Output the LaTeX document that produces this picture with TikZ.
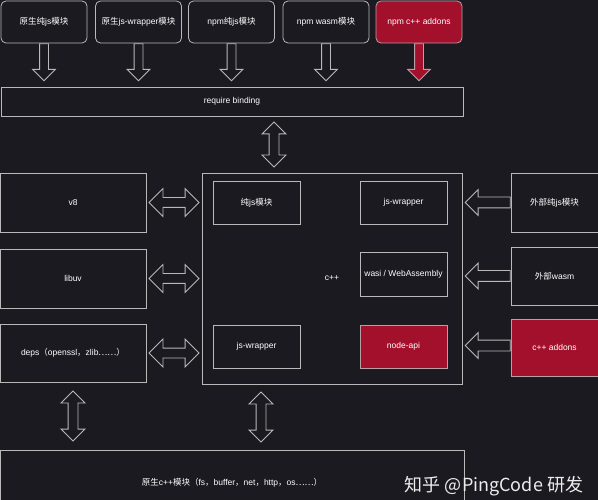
\documentclass[tikz,border=0pt]{standalone}
\usepackage{fontspec}
\setmainfont{Liberation Sans}
\newfontfamily\cjk{Noto Sans CJK SC}
\usetikzlibrary{shapes.arrows,calc}
\definecolor{bg}{RGB}{27,26,33}
\definecolor{edge}{RGB}{185,185,185}
\definecolor{addon}{RGB}{163,16,44}

\begin{document}
\begin{tikzpicture}[x=1pt,y=-1pt,
	box/.style={draw=edge,line width=0.8pt,fill=bg,text=white,font=\fontsize{8.5}{10}\selectfont,inner sep=1pt},
	topbox/.style={box,rounded corners=5pt,minimum width=86pt,minimum height=42pt},
	addonbox/.style={fill=addon,draw=edge!85!addon},
	downarr/.style={single arrow,draw=edge,fill=bg,line width=0.8pt,shape border rotate=270,
		inner sep=4pt,minimum height=37pt,single arrow head extend=7pt,anchor=tail},
	leftarr/.style={single arrow,draw=edge,fill=bg,line width=0.8pt,shape border rotate=180,
		inner sep=5pt,minimum height=45pt,single arrow head extend=7.5pt,anchor=tail},
	twoarr/.style={double arrow,draw=edge,fill=bg,line width=0.8pt,
		inner sep=4.5pt,double arrow head extend=7pt}]

	% hatter
	\fill[bg] (0,0) rectangle (598,500);
	\useasboundingbox (0,0) rectangle (598,500);

	% npm / nativ modulok felul
	\node[topbox] (t1) at (44,22) {{\cjk 原生纯}js{\cjk 模块}};
	\node[topbox] (t2) at (138.5,22) {{\cjk 原生}js-wrapper{\cjk 模块}};
	\node[topbox] (t3) at (231.5,22) {npm{\cjk 纯}js{\cjk 模块}};
	\node[topbox] (t4) at (326,22) {npm wasm{\cjk 模块}};
	\node[topbox,addonbox] (t5) at (419,22) {npm c++ addons};

	\node[box,minimum width=462pt,minimum height=29pt] (req) at (232,101.5) {require binding};

	% bal oldali blokkok
	\node[box,minimum width=146pt,minimum height=59pt] (v8) at (73,202.5) {v8};
	\node[box,minimum width=146pt,minimum height=59pt] (uv) at (73,278.5) {libuv};
	\node[box,minimum width=146pt,minimum height=58pt] (deps) at (73,353) {deps{\cjk （}openssl{\cjk ，}zlib{\cjk ……）}};

	% kozepso c++ blokk
	\node[box,minimum width=260pt,minimum height=211pt] (core) at (332,278.5) {c++};
	\node[box,minimum width=87pt,minimum height=43pt] (purejs) at (256.5,202.5) {{\cjk 纯}js{\cjk 模块}};
	\node[box,minimum width=87pt,minimum height=43pt] (jsw) at (256.5,346.5) {js-wrapper};
	\node[box,minimum width=87pt,minimum height=43pt] (jswr) at (403.5,202.5) {js-wrapper};
	\node[box,minimum width=87pt,minimum height=44pt] (wasi) at (403.5,274) {wasi / WebAssembly};
	\node[box,addonbox,minimum width=87pt,minimum height=43pt] (napi) at (403.5,346.5) {node-api};

	% kulso modulok jobbra
	\node[box,minimum width=87pt,minimum height=59pt] (ext1) at (554.5,202.5) {{\cjk 外部纯}js{\cjk 模块}};
	\node[box,minimum width=87pt,minimum height=58pt] (ext2) at (554.5,276) {{\cjk 外部}wasm};
	\node[box,addonbox,minimum width=87pt,minimum height=57pt] (ext3) at (554.5,347.5) {c++ addons};

	% also blokk
	\node[box,minimum width=464pt,minimum height=66pt] (base) at (232,483)
		{{\cjk 原生}c++{\cjk 模块（}fs{\cjk ，}buffer{\cjk ，}net{\cjk ，}http{\cjk ，}os{\cjk ……）}};

	% nyilak
	\foreach \t in {t1,t2,t3,t4}
		\node[downarr] at (\t.south) {};
	\node[downarr,addonbox] at (t5.south) {};

	\node[twoarr,shape border rotate=90,minimum height=45pt] (rc) at ($(req.south)!0.5!(core.north)+(-8,0)$) {};

	\foreach \l in {v8,uv,deps}
		\node[twoarr,minimum height=50pt,double arrow head extend=9pt] at ($(\l.east)!0.5!(\l.east -| core.west)$) {};

	\node[leftarr] at (ext1.west) {};
	\node[leftarr] at (ext2.west) {};
	\node[leftarr] at ($(ext3.west)+(0,-2)$) {};

	\node[twoarr,shape border rotate=90,minimum height=50pt] at ($(deps.south)!0.5!(deps.south |- base.north)$) {};
	\node[twoarr,shape border rotate=90,minimum height=50pt] at ($(jsw.south |- core.south)!0.5!(jsw.south |- base.north)+(4.5,0)$) {};

	% vizjel
	\node[text=white!92!bg,font=\cjk\fontsize{18}{20}\selectfont] (wm) at (494,486) {知乎 @PingCode 研发};

\end{tikzpicture}
\end{document}
